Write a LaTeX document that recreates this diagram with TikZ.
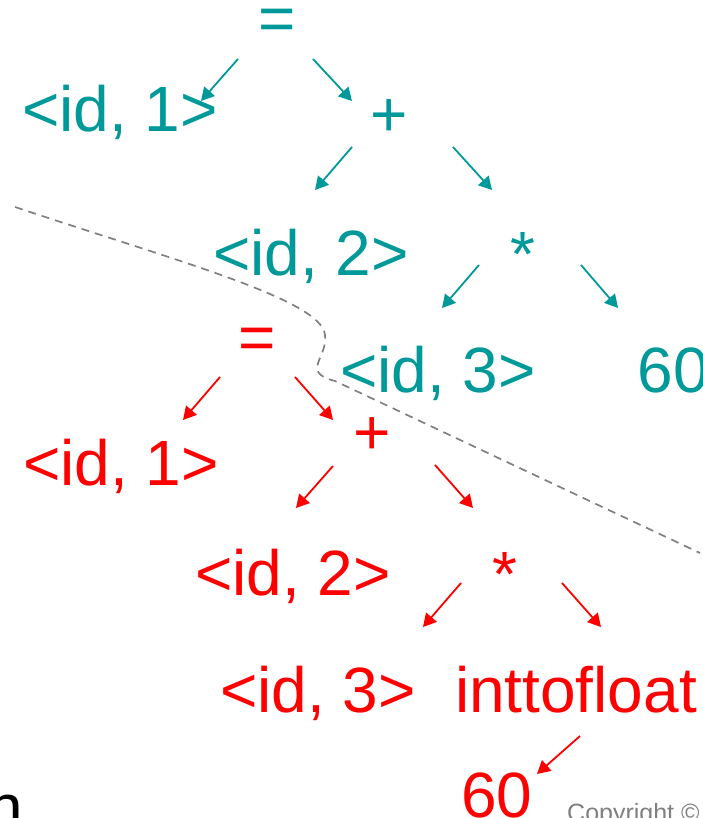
\documentclass[tikz,border=0pt]{standalone}
\usepackage{fontspec}
\setmainfont{Liberation Sans}
\usetikzlibrary{arrows.meta}
\definecolor{tea}{RGB}{0,153,153}
\definecolor{gry}{RGB}{128,128,128}

\begin{document}
\begin{tikzpicture}[x=1pt,y=-1pt,
    lbl/.style={inner sep=0pt,anchor=base,font=\fontsize{64}{70}\selectfont},
    arr/.style={line width=1.8pt,-{Triangle[length=13pt,width=14pt]}}]
    \useasboundingbox (0,0) rectangle (702,818);
    \clip (0,0) rectangle (702,818);
    %
    % syntax tree
    \begin{scope}[tea]
        \node[lbl] (tEq)   at (277,41)  {=};
        \node[lbl] (tId1)  at (120,132) {<id, 1>};
        \node[lbl] (tPlus) at (389,137) {+};
        \node[lbl] (tId2)  at (311,275) {<id, 2>};
        \node[lbl] (tStar) at (523,276) {*};
        \node[lbl] (tId3)  at (438,392) {<id, 3>};
        \node[lbl] (t60)   at (673,392) {60};
        %
        \coordinate (tEqL)   at (238,59);
        \coordinate (tEqR)   at (313,59);
        \coordinate (tPlusL) at (352,147);
        \coordinate (tPlusR) at (453,147);
        \coordinate (tStarL) at (479,265);
        \coordinate (tStarR) at (581,265);
        \coordinate (tId1T)  at (201,101);
        \coordinate (tPlusT) at (352,101);
        \coordinate (tId2T)  at (315,190);
        \coordinate (tStarT) at (492,190);
        \coordinate (tId3T)  at (442,308);
        \coordinate (t60T)   at (618,308);
        %
        \draw[arr] (tEqL) -- (tId1T);
        \draw[arr] (tEqR) -- (tPlusT);
        \draw[arr] (tPlusL) -- (tId2T);
        \draw[arr] (tPlusR) -- (tStarT);
        \draw[arr] (tStarL) -- (tId3T);
        \draw[arr] (tStarR) -- (t60T);
    \end{scope}
    %
    % semantic tree
    \begin{scope}[red]
        \node[lbl] (rEq)   at (257,359) {=};
        \node[lbl] (rId1)  at (121,485) {<id, 1>};
        \node[lbl] (rPlus) at (372,454) {+};
        \node[lbl] (rId2)  at (293,595) {<id, 2>};
        \node[lbl] (rStar) at (505,596) {*};
        \node[lbl] (rId3)  at (318,712) {<id, 3>};
        \node[lbl] (rInt)  at (576,712) {inttofloat};
        \node[lbl] (r60)   at (497,817) {60};
        %
        \coordinate (rEqL)   at (220,377);
        \coordinate (rEqR)   at (295,377);
        \coordinate (rPlusL) at (333,466);
        \coordinate (rPlusR) at (435,465);
        \coordinate (rStarL) at (461,583);
        \coordinate (rStarR) at (562,583);
        \coordinate (rIntB)  at (580,736);
        \coordinate (rId1T)  at (183,420);
        \coordinate (rPlusT) at (333,420);
        \coordinate (rId2T)  at (296,508);
        \coordinate (rStarT) at (473,508);
        \coordinate (rId3T)  at (423,627);
        \coordinate (rIntT)  at (601,627);
        \coordinate (r60T)   at (537,774);
        %
        \draw[arr] (rEqL) -- (rId1T);
        \draw[arr] (rEqR) -- (rPlusT);
        \draw[arr] (rPlusL) -- (rId2T);
        \draw[arr] (rPlusR) -- (rStarT);
        \draw[arr] (rStarL) -- (rId3T);
        \draw[arr] (rStarR) -- (rIntT);
        \draw[arr] (rIntB) -- (r60T);
    \end{scope}
    %
    % divider
    \draw[gry,line width=1.7pt,dash pattern=on 8pt off 6pt]
        (15,207) .. controls (180,262) and (322,300) .. (325,335)
        .. controls (328,358) and (300,372) .. (335,381) -- (700,553);
    %
    \node[lbl,anchor=base west] (nTxt) at (-13,829) {n};
    \node[gry,inner sep=0pt,anchor=base west,font=\fontsize{25}{29}\selectfont]
        (copy) at (567,821) {Copyright ©};
\end{tikzpicture}
\end{document}
